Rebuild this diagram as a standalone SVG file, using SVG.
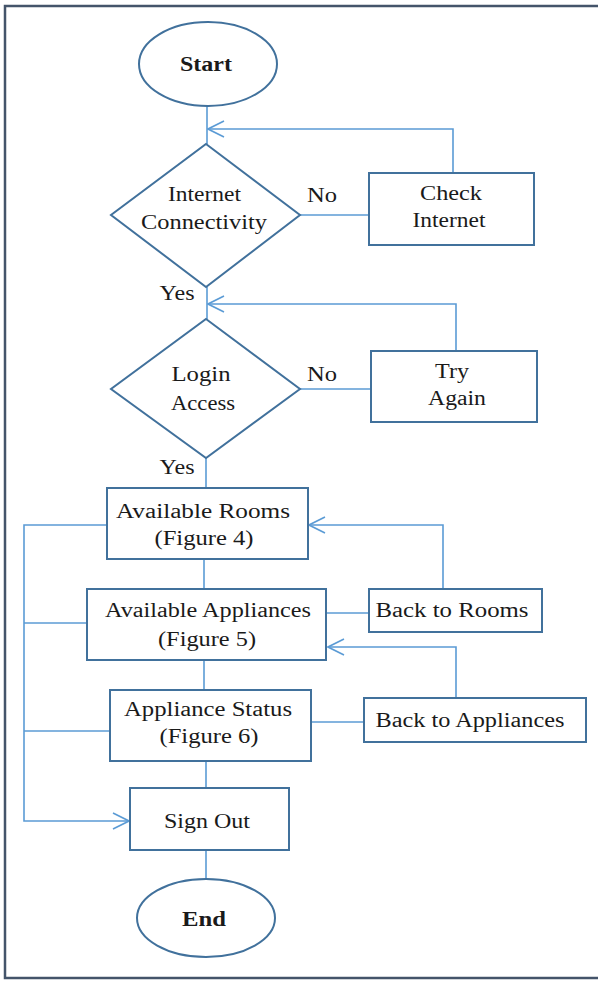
<svg xmlns="http://www.w3.org/2000/svg" width="598" height="981" viewBox="0 0 598 981">
<defs>
<style>
.node{fill:#fff;stroke:#41719c;stroke-width:2}
.conn{fill:none;stroke:#5b9bd5;stroke-width:1.6}
.t{font-family:"Liberation Serif","Times New Roman",serif;font-size:20px;fill:#1a1a1a;text-anchor:middle}
.b{font-weight:bold}
</style>
<marker id="arr" markerUnits="userSpaceOnUse" markerWidth="18" markerHeight="18" viewBox="0 0 18 18" refX="17" refY="9" orient="auto">
<path d="M1,1 L17,9 L1,17" fill="none" stroke="#5b9bd5" stroke-width="1.6"/>
</marker>
</defs>
<rect x="0" y="0" width="598" height="981" fill="#fff"/>
<rect x="5" y="6" width="610" height="972" fill="none" stroke="#44546a" stroke-width="2.5"/>

<g id="connectors">
<path class="conn" d="M207,106 V144"/>
<path class="conn" d="M453,173 V129 H208" marker-end="url(#arr)"/>
<path class="conn" d="M300,215 H369"/>
<path class="conn" d="M207,287 V319"/>
<path class="conn" d="M456,351 V304 H208" marker-end="url(#arr)"/>
<path class="conn" d="M300,389 H371"/>
<path class="conn" d="M206,458 V488"/>
<path class="conn" d="M204,559 V589"/>
<path class="conn" d="M443,589 V525 H309" marker-end="url(#arr)"/>
<path class="conn" d="M326,613 H369"/>
<path class="conn" d="M204,660 V690"/>
<path class="conn" d="M456,698 V647 H328" marker-end="url(#arr)"/>
<path class="conn" d="M311,722 H364"/>
<path class="conn" d="M206,761 V788"/>
<path class="conn" d="M206,850 V880"/>
<path class="conn" d="M107,525 H24 V821 H129" marker-end="url(#arr)"/>
<path class="conn" d="M87,623 H24"/>
<path class="conn" d="M110,731 H24"/>
</g>

<g id="start">
<ellipse class="node" cx="208" cy="64" rx="69" ry="42"/>
<text class="t b" x="206" y="71" textLength="52" lengthAdjust="spacingAndGlyphs">Start</text>
</g>

<g id="internet">
<polygon class="node" points="206,144 300,215 206,287 111,215"/>
<text class="t" x="204.5" y="201" textLength="73" lengthAdjust="spacingAndGlyphs">Internet</text>
<text class="t" x="204" y="229" textLength="126" lengthAdjust="spacingAndGlyphs">Connectivity</text>
<text class="t" x="322" y="202" textLength="30" lengthAdjust="spacingAndGlyphs">No</text>
<text class="t" x="177" y="300" textLength="35" lengthAdjust="spacingAndGlyphs">Yes</text>
</g>

<g id="check-internet">
<rect class="node" x="369" y="173" width="165" height="72"/>
<text class="t" x="451" y="200" textLength="62" lengthAdjust="spacingAndGlyphs">Check</text>
<text class="t" x="449" y="227" textLength="73" lengthAdjust="spacingAndGlyphs">Internet</text>
</g>

<g id="login">
<polygon class="node" points="206,319 300,389 206,458 111,389"/>
<text class="t" x="201" y="381" textLength="59" lengthAdjust="spacingAndGlyphs">Login</text>
<text class="t" x="203" y="410" textLength="64" lengthAdjust="spacingAndGlyphs">Access</text>
<text class="t" x="322" y="381" textLength="30" lengthAdjust="spacingAndGlyphs">No</text>
<text class="t" x="177" y="474" textLength="35" lengthAdjust="spacingAndGlyphs">Yes</text>
</g>

<g id="try-again">
<rect class="node" x="371" y="351" width="166" height="71"/>
<text class="t" x="452" y="378" textLength="34" lengthAdjust="spacingAndGlyphs">Try</text>
<text class="t" x="457" y="405" textLength="58" lengthAdjust="spacingAndGlyphs">Again</text>
</g>

<g id="rooms">
<rect class="node" x="107" y="488" width="201" height="71"/>
<text class="t" x="203" y="518" textLength="174" lengthAdjust="spacingAndGlyphs">Available Rooms</text>
<text class="t" x="204" y="545" textLength="99" lengthAdjust="spacingAndGlyphs">(Figure 4)</text>
</g>

<g id="appliances">
<rect class="node" x="87" y="589" width="239" height="71"/>
<text class="t" x="208" y="617" textLength="206" lengthAdjust="spacingAndGlyphs">Available Appliances</text>
<text class="t" x="207" y="646" textLength="98" lengthAdjust="spacingAndGlyphs">(Figure 5)</text>
</g>

<g id="back-rooms">
<rect class="node" x="369" y="589" width="173" height="43"/>
<text class="t" x="452" y="617" textLength="153" lengthAdjust="spacingAndGlyphs">Back to Rooms</text>
</g>

<g id="status">
<rect class="node" x="110" y="690" width="201" height="71"/>
<text class="t" x="208" y="716" textLength="168" lengthAdjust="spacingAndGlyphs">Appliance Status</text>
<text class="t" x="209" y="743" textLength="99" lengthAdjust="spacingAndGlyphs">(Figure 6)</text>
</g>

<g id="back-appliances">
<rect class="node" x="364" y="698" width="222" height="44"/>
<text class="t" x="470" y="727" textLength="189" lengthAdjust="spacingAndGlyphs">Back to Appliances</text>
</g>

<g id="signout">
<rect class="node" x="130" y="788" width="159" height="62"/>
<text class="t" x="207" y="828" textLength="86" lengthAdjust="spacingAndGlyphs">Sign Out</text>
</g>

<g id="end">
<ellipse class="node" cx="206" cy="918" rx="69" ry="39"/>
<text class="t b" x="204" y="926" textLength="44" lengthAdjust="spacingAndGlyphs">End</text>
</g>
</svg>
